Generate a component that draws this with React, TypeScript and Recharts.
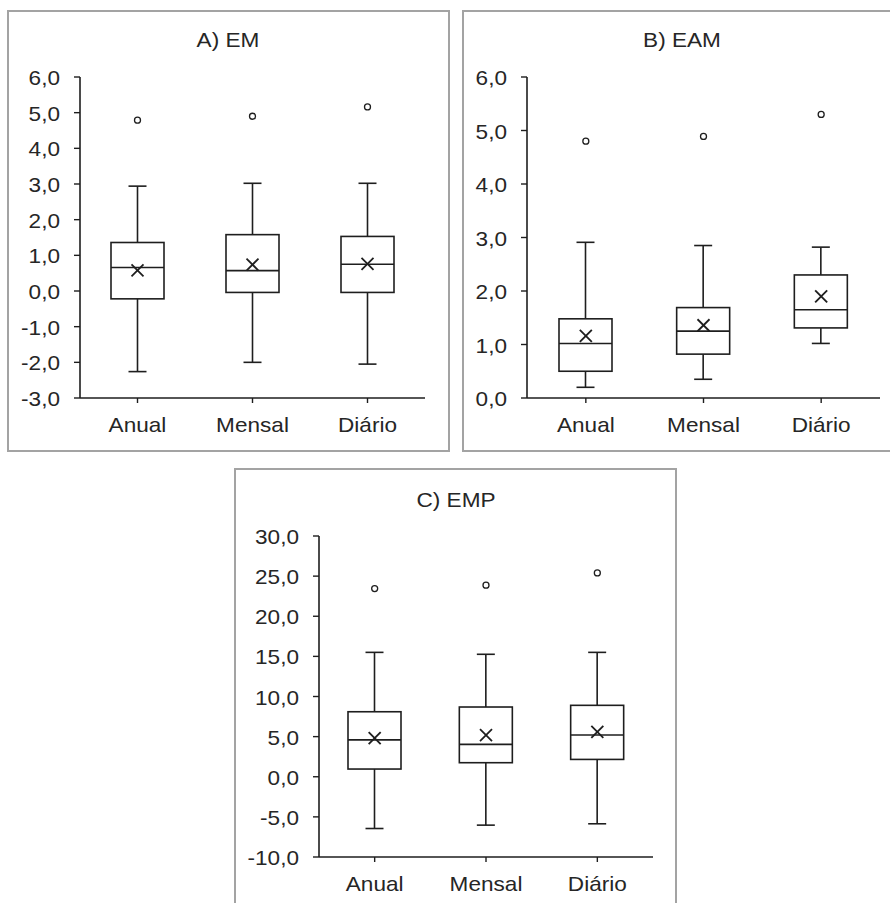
import React from "react";
import { ComposedChart, Bar, Scatter, XAxis, YAxis } from "recharts";

/* ============================================================
   DATA
   ============================================================ */

const categories = ["Anual", "Mensal", "Diário"];

// A) EM
const emMin = [-2.26, -2.0, -2.05];
const emQ1 = [-0.22, -0.04, -0.04];
const emMedian = [0.66, 0.57, 0.75];
const emQ3 = [1.36, 1.58, 1.53];
const emMax = [2.94, 3.02, 3.02];
const emMean = [0.58, 0.74, 0.76];
const emOutlier = [4.79, 4.9, 5.16];
const emTicks = [-3, -2, -1, 0, 1, 2, 3, 4, 5, 6];

// B) EAM
const eamMin = [0.2, 0.35, 1.02];
const eamQ1 = [0.5, 0.82, 1.31];
const eamMedian = [1.02, 1.25, 1.65];
const eamQ3 = [1.48, 1.69, 2.3];
const eamMax = [2.91, 2.85, 2.82];
const eamMean = [1.16, 1.36, 1.9];
const eamOutlier = [4.8, 4.89, 5.3];
const eamTicks = [0, 1, 2, 3, 4, 5, 6];

// C) EMP
const empMin = [-6.45, -6.03, -5.86];
const empQ1 = [0.96, 1.75, 2.16];
const empMedian = [4.6, 4.03, 5.2];
const empQ3 = [8.1, 8.69, 8.9];
const empMax = [15.5, 15.26, 15.5];
const empMean = [4.8, 5.2, 5.6];
const empOutlier = [23.45, 23.87, 25.4];
const empTicks = [-10, -5, 0, 5, 10, 15, 20, 25, 30];

/* ============================================================
   STYLE
   ============================================================ */

const FONT = "'Liberation Sans', Arial, sans-serif";
const INK = "#1e1e1e";
const TEXT = "#262626";
const FRAME = "#a3a3a3";
const STRETCH = 1.13; // the source text is a bit wider than Arial

const fmt = (v: number) => v.toFixed(1).replace(".", ",");

type Row = {
  name: string;
  range: [number, number];
  q1: number;
  median: number;
  q3: number;
  mean: number;
  outlier: number;
};

const buildRows = (
  min: number[],
  q1: number[],
  median: number[],
  q3: number[],
  max: number[],
  mean: number[],
  outlier: number[]
): Row[] =>
  categories.map((name, i) => ({
    name,
    range: [min[i], max[i]],
    q1: q1[i],
    median: median[i],
    q3: q3[i],
    mean: mean[i],
    outlier: outlier[i],
  }));

/* ============================================================
   SHAPES
   ============================================================ */

// The bar spans min..max (whiskers); everything else is placed
// linearly inside that span, so it stays on the axis scale.
function BoxShape(props: any) {
  const { x, y, width, height, payload } = props;
  const [lo, hi] = payload.range as [number, number];
  const top = Math.min(y, y + height);
  const h = Math.abs(height);
  const k = h / (hi - lo);
  const py = (v: number) => top + (hi - v) * k;
  const cx = x + width / 2;
  const cap = 9;
  const sw = 1.6;
  return (
    <g stroke={INK} strokeWidth={sw} fill="none">
      <line x1={cx} x2={cx} y1={py(hi)} y2={py(payload.q3)} />
      <line x1={cx} x2={cx} y1={py(payload.q1)} y2={py(lo)} />
      <line x1={cx - cap} x2={cx + cap} y1={py(hi)} y2={py(hi)} />
      <line x1={cx - cap} x2={cx + cap} y1={py(lo)} y2={py(lo)} />
      <rect
        x={x}
        y={py(payload.q3)}
        width={width}
        height={py(payload.q1) - py(payload.q3)}
        fill="#fff"
      />
      <line x1={x} x2={x + width} y1={py(payload.median)} y2={py(payload.median)} />
    </g>
  );
}

function MeanMark(props: any) {
  const { cx, cy } = props;
  const r = 6;
  return (
    <g stroke={INK} strokeWidth={1.8}>
      <line x1={cx - r} y1={cy - r} x2={cx + r} y2={cy + r} />
      <line x1={cx - r} y1={cy + r} x2={cx + r} y2={cy - r} />
    </g>
  );
}

function OutlierMark(props: any) {
  const { cx, cy } = props;
  return <circle cx={cx} cy={cy} r={3} fill="#fff" stroke={INK} strokeWidth={1.3} />;
}

function YTick(props: any) {
  const { x, y, payload } = props;
  return (
    <g transform={`translate(${x},${y + 8})`}>
      <text
        transform={`scale(${STRETCH},1)`}
        textAnchor="end"
        fontSize={20}
        fontFamily={FONT}
        fill={TEXT}
      >
        {fmt(payload.value)}
      </text>
    </g>
  );
}

function XTick(props: any) {
  const { x, y, payload } = props;
  return (
    <g transform={`translate(${x},${y + 29})`}>
      <text
        transform={`scale(${STRETCH},1)`}
        textAnchor="middle"
        fontSize={20}
        fontFamily={FONT}
        fill={TEXT}
      >
        {payload.value}
      </text>
    </g>
  );
}

/* ============================================================
   PANEL
   ============================================================ */

function Frame({ left, top, width, height }: { left: number; top: number; width: number; height: number }) {
  return (
    <div
      style={{
        position: "absolute",
        left,
        top,
        width,
        height,
        boxSizing: "border-box",
        border: `2px solid ${FRAME}`,
      }}
    />
  );
}

function Title({ text, center, baseline }: { text: string; center: number; baseline: number }) {
  return (
    <div
      style={{
        position: "absolute",
        left: center - 100,
        top: baseline - 17,
        width: 200,
        textAlign: "center",
        fontFamily: FONT,
        fontSize: 20,
        lineHeight: "20px",
        color: TEXT,
        transform: `scaleX(${STRETCH})`,
        whiteSpace: "nowrap",
      }}
    >
      {text}
    </div>
  );
}

function BoxPlot({
  rows,
  ticks,
  left,
  top,
  width,
  height,
  yWidth,
  marginTop,
  marginRight,
  xHeight,
}: {
  rows: Row[];
  ticks: number[];
  left: number;
  top: number;
  width: number;
  height: number;
  yWidth: number;
  marginTop: number;
  marginRight: number;
  xHeight: number;
}) {
  return (
    <div style={{ position: "absolute", left, top }}>
      <ComposedChart
        width={width}
        height={height}
        data={rows}
        margin={{ top: marginTop, right: marginRight, bottom: 0, left: 0 }}
      >
        <XAxis
          dataKey="name"
          height={xHeight}
          tick={<XTick />}
          tickSize={5}
          tickMargin={0}
          axisLine={{ stroke: INK, strokeWidth: 1.6 }}
          tickLine={{ stroke: INK, strokeWidth: 1.4 }}
          interval={0}
        />
        <YAxis
          type="number"
          width={yWidth}
          domain={[ticks[0], ticks[ticks.length - 1]]}
          ticks={ticks}
          interval={0}
          tick={<YTick />}
          tickSize={6}
          tickMargin={14}
          axisLine={{ stroke: INK, strokeWidth: 1.6 }}
          tickLine={{ stroke: INK, strokeWidth: 1.4 }}
        />
        <Bar dataKey="range" barSize={53} shape={<BoxShape />} isAnimationActive={false} />
        <Scatter dataKey="mean" shape={<MeanMark />} isAnimationActive={false} />
        <Scatter dataKey="outlier" shape={<OutlierMark />} isAnimationActive={false} />
      </ComposedChart>
    </div>
  );
}

/* ============================================================
   MAIN
   ============================================================ */

export default function App() {
  const em = buildRows(emMin, emQ1, emMedian, emQ3, emMax, emMean, emOutlier);
  const eam = buildRows(eamMin, eamQ1, eamMedian, eamQ3, eamMax, eamMean, eamOutlier);
  const emp = buildRows(empMin, empQ1, empMedian, empQ3, empMax, empMean, empOutlier);

  return (
    <div
      style={{
        position: "absolute",
        left: 0,
        top: 0,
        width: 890,
        height: 903,
        overflow: "hidden",
        background: "#fff",
      }}
    >
      <Frame left={7} top={10} width={443} height={442} />
      <Frame left={462} top={10} width={430} height={442} />
      <Frame left={234} top={468} width={443} height={460} />

      <BoxPlot rows={em} ticks={emTicks} left={8} top={11} width={441} height={440}
        yWidth={72} marginTop={66} marginRight={24} xHeight={53} />
      <BoxPlot rows={eam} ticks={eamTicks} left={463} top={11} width={427} height={440}
        yWidth={64} marginTop={66} marginRight={10} xHeight={53} />
      <BoxPlot rows={emp} ticks={empTicks} left={235} top={469} width={441} height={440}
        yWidth={84} marginTop={67} marginRight={23} xHeight={52} />

      <Title text="A) EM" center={228} baseline={47} />
      <Title text="B) EAM" center={682} baseline={47} />
      <Title text="C) EMP" center={455.5} baseline={507} />
    </div>
  );
}
